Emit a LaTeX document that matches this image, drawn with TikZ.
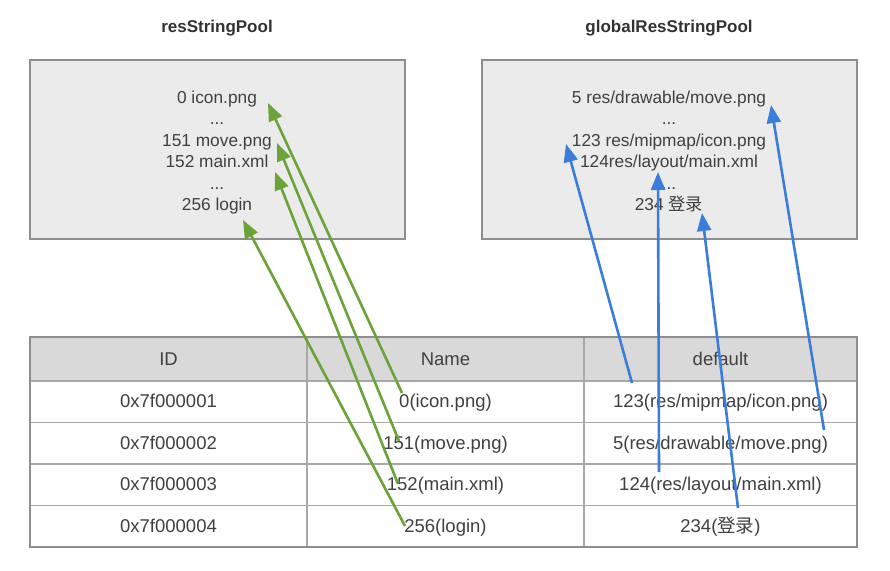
\documentclass[tikz,border=0pt]{standalone}
\usepackage{fontspec}
\setmainfont{Liberation Sans}
\newfontfamily\cjk{Noto Sans CJK SC}
\usetikzlibrary{arrows.meta}
\definecolor{txt}{HTML}{404040}
\definecolor{ttltxt}{HTML}{333333}
\definecolor{boxfill}{HTML}{EBEBEB}
\definecolor{boxline}{HTML}{8E8E8E}
\definecolor{headfill}{HTML}{D9D9D9}
\definecolor{gridline}{HTML}{A8A8A8}
\definecolor{grn}{HTML}{6BA33A}
\definecolor{blu}{HTML}{3B7DD8}
\begin{document}
\begin{tikzpicture}[x=1pt,y=-1pt,
  pool/.style={draw=boxline, line width=2pt, fill=boxfill, minimum width=375pt, minimum height=179pt, inner sep=0pt},
  lbl/.style={font=\fontsize{17.3}{20}\selectfont, text=txt, inner sep=0pt, anchor=base},
  ttl/.style={font=\fontsize{17}{20}\selectfont\bfseries, text=ttltxt, inner sep=0pt, anchor=base},
  cell/.style={draw=gridline, line width=1.2pt, fill=white, minimum height=41.5pt, text height=14pt, text depth=2pt, inner sep=0pt, font=\fontsize{18.5}{21}\selectfont, text=txt},
  hcell/.style={cell, fill=headfill, minimum height=44pt},
  frame/.style={draw=boxline, line width=2pt, minimum width=827pt, minimum height=210pt, inner sep=0pt},
  garrow/.style={draw=grn, line width=2.6pt, -{Triangle[length=18pt,width=14pt]}},
  barrow/.style={draw=blu, line width=2.6pt, -{Triangle[length=18pt,width=14pt]}}]
\useasboundingbox (0,0) rectangle (890,570);
\fill[white] (0,0) rectangle (890,570);
% titles
\node[ttl] (t1) at (217,32) {resStringPool};
\node[ttl] (t2) at (669,32) {globalResStringPool};
% pools
\node[pool] (lbox) at (217.5,149.5) {};
\node[pool] (rbox) at (669.5,149.5) {};
\node[lbl] (l0) at (217,103) {0 icon.png};
\node[lbl] (l1) at (217,124.5) {...};
\node[lbl] (l2) at (217,146) {151 move.png};
\node[lbl] (l3) at (217,167.5) {152 main.xml};
\node[lbl] (l4) at (217,189) {...};
\node[lbl] (l5) at (217,210.5) {256 login};
\node[lbl] (r0) at (669,103) {5 res/drawable/move.png};
\node[lbl] (r1) at (669,124.5) {...};
\node[lbl] (r2) at (669,146) {123 res/mipmap/icon.png};
\node[lbl] (r3) at (669,167.5) {124res/layout/main.xml};
\node[lbl] (r4) at (669,189) {...};
\node[lbl] (r5) at (669,210.5) {234 {\cjk 登录}};
% table
\node[hcell, minimum width=277pt] (h1) at (168.5,359) {ID};
\node[hcell, minimum width=277pt] (h2) at (445.5,359) {Name};
\node[hcell, minimum width=273pt] (h3) at (720.5,359) {default};
\node[cell, minimum width=277pt] (a1) at (168.5,401.75) {0x7f000001};
\node[cell, minimum width=277pt] (b1) at (445.5,401.75) {0(icon.png)};
\node[cell, minimum width=273pt] (c1) at (720.5,401.75) {123(res/mipmap/icon.png)};
\node[cell, minimum width=277pt] (a2) at (168.5,443.25) {0x7f000002};
\node[cell, minimum width=277pt] (b2) at (445.5,443.25) {151(move.png)};
\node[cell, minimum width=273pt] (c2) at (720.5,443.25) {5(res/drawable/move.png)};
\node[cell, minimum width=277pt] (a3) at (168.5,484.75) {0x7f000003};
\node[cell, minimum width=277pt] (b3) at (445.5,484.75) {152(main.xml)};
\node[cell, minimum width=273pt] (c3) at (720.5,484.75) {124(res/layout/main.xml)};
\node[cell, minimum width=277pt] (a4) at (168.5,526.25) {0x7f000004};
\node[cell, minimum width=277pt] (b4) at (445.5,526.25) {256(login)};
\node[cell, minimum width=273pt] (c4) at (720.5,526.25) {234({\cjk 登录})};
\node[frame] (tbl) at (443.5,442) {};
% arrow end points
\coordinate (gt1) at (402,393);
\coordinate (gt2) at (399,441);
\coordinate (gt3) at (398,484);
\coordinate (gt4) at (405,526);
\coordinate (gh1) at (268,103);
\coordinate (gh2) at (277,143);
\coordinate (gh3) at (275,172);
\coordinate (gh4) at (243,220);
\coordinate (bt1) at (632,383);
\coordinate (bt2) at (659,472);
\coordinate (bt3) at (738,508);
\coordinate (bt4) at (824,430);
\coordinate (bh1) at (566,144);
\coordinate (bh2) at (658,172);
\coordinate (bh3) at (702,213);
\coordinate (bh4) at (771,105);
\draw[garrow] (gt1) -- (gh1);
\draw[garrow] (gt2) -- (gh2);
\draw[garrow] (gt3) -- (gh3);
\draw[garrow] (gt4) -- (gh4);
\draw[barrow] (bt1) -- (bh1);
\draw[barrow] (bt2) -- (bh2);
\draw[barrow] (bt3) -- (bh3);
\draw[barrow] (bt4) -- (bh4);
\end{tikzpicture}
\end{document}
